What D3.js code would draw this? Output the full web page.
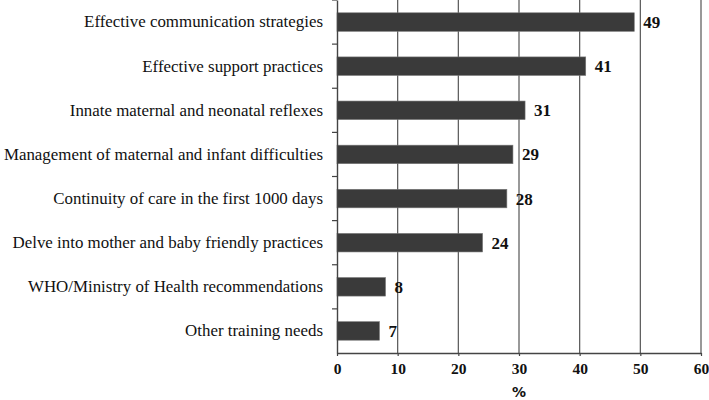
<!DOCTYPE html>
<html>
<head>
<meta charset="utf-8">
<script src="https://cdn.jsdelivr.net/npm/d3@7"></script>
<style>
  body { margin: 0; background: #fff; }
  svg text { font-family: "Liberation Serif", "Times New Roman", serif; fill: #111; }
</style>
</head>
<body>
<div id="chart"></div>
<script>
var categories = [
    "Effective communication strategies",
    "Effective support practices",
    "Innate maternal and neonatal reflexes",
    "Management of maternal and infant difficulties",
    "Continuity of care in the first 1000 days",
    "Delve into mother and baby friendly practices",
    "WHO/Ministry of Health recommendations",
    "Other training needs"
];
var values = [49, 41, 31, 29, 28, 24, 8, 7];
var xTicks = [0, 10, 20, 30, 40, 50, 60];
var xTitle = "%";

var width = 709, height = 400;
var margin = {top: 0, right: 8, bottom: 47, left: 337};

var svg = d3.select("#chart")
    .append("svg")
    .attr("width", width)
    .attr("height", height);

var x = d3.scaleLinear()
    .domain([0, 60])
    .range([margin.left, width - margin.right]);

var y = d3.scaleBand()
    .domain(categories)
    .range([margin.top, height - margin.bottom])
    .paddingInner(0.58)
    .paddingOuter(0.29);

var yStep = d3.scaleBand().domain(categories).range([margin.top, height - margin.bottom]);

// vertical gridlines
svg.append("g")
    .selectAll("line")
    .data(xTicks.slice(1))
    .enter()
    .append("line")
    .attr("x1", function(d){ return x(d); })
    .attr("x2", function(d){ return x(d); })
    .attr("y1", margin.top)
    .attr("y2", height - margin.bottom)
    .style("stroke", "#555")
    .style("stroke-width", 1.2);

// bars
svg.append("g")
    .selectAll("rect")
    .data(values)
    .enter()
    .append("rect")
    .attr("x", x(0))
    .attr("y", function(d, i){ return y(categories[i]); })
    .attr("width", function(d){ return x(d) - x(0); })
    .attr("height", y.bandwidth())
    .style("fill", "#3a3a3a")
    .style("stroke", "#777")
    .style("stroke-width", 0.6);

// value labels
svg.append("g")
    .selectAll("text")
    .data(values)
    .enter()
    .append("text")
    .attr("x", function(d){ return x(d) + 9; })
    .attr("y", function(d, i){ return y(categories[i]) + y.bandwidth() / 2; })
    .attr("dy", "0.35em")
    .style("font-size", "17px")
    .style("font-weight", "bold")
    .text(function(d){ return d; });

// x axis
var xAxis = svg.append("g")
    .attr("transform", "translate(0," + (height - margin.bottom) + ")")
    .call(d3.axisBottom(x).tickValues(xTicks).tickSize(3).tickPadding(7).tickSizeOuter(0));
xAxis.select(".domain").style("stroke", "#444").style("stroke-width", 1.4);
xAxis.selectAll(".tick line").style("stroke", "#444").style("stroke-width", 1.2);
xAxis.selectAll(".tick text")
    .style("font-size", "15.5px")
    .style("font-weight", "bold")
    .style("font-family", "'Liberation Serif', serif")
    .style("fill", "#111");

// y axis
var yAxis = svg.append("g")
    .attr("transform", "translate(" + margin.left + ",0)")
    .call(d3.axisLeft(y).tickSize(0).tickPadding(14));
yAxis.select(".domain").style("stroke", "#444").style("stroke-width", 1.4);
yAxis.selectAll(".tick text")
    .style("font-size", "16.9px")
    .style("font-family", "'Liberation Serif', serif")
    .style("fill", "#111");

// category separator ticks
svg.append("g")
    .selectAll("line")
    .data(categories)
    .enter()
    .append("line")
    .attr("x1", margin.left - 5)
    .attr("x2", margin.left)
    .attr("y1", function(d){ return yStep(d); })
    .attr("y2", function(d){ return yStep(d); })
    .style("stroke", "#444")
    .style("stroke-width", 1.2);

// x title
svg.append("text")
    .attr("x", (x(0) + x(60)) / 2)
    .attr("y", 397)
    .attr("text-anchor", "middle")
    .style("font-size", "14px")
    .style("font-weight", "bold")
    .style("font-family", "'DejaVu Sans', sans-serif")
    .text(xTitle);
</script>
</body>
</html>
